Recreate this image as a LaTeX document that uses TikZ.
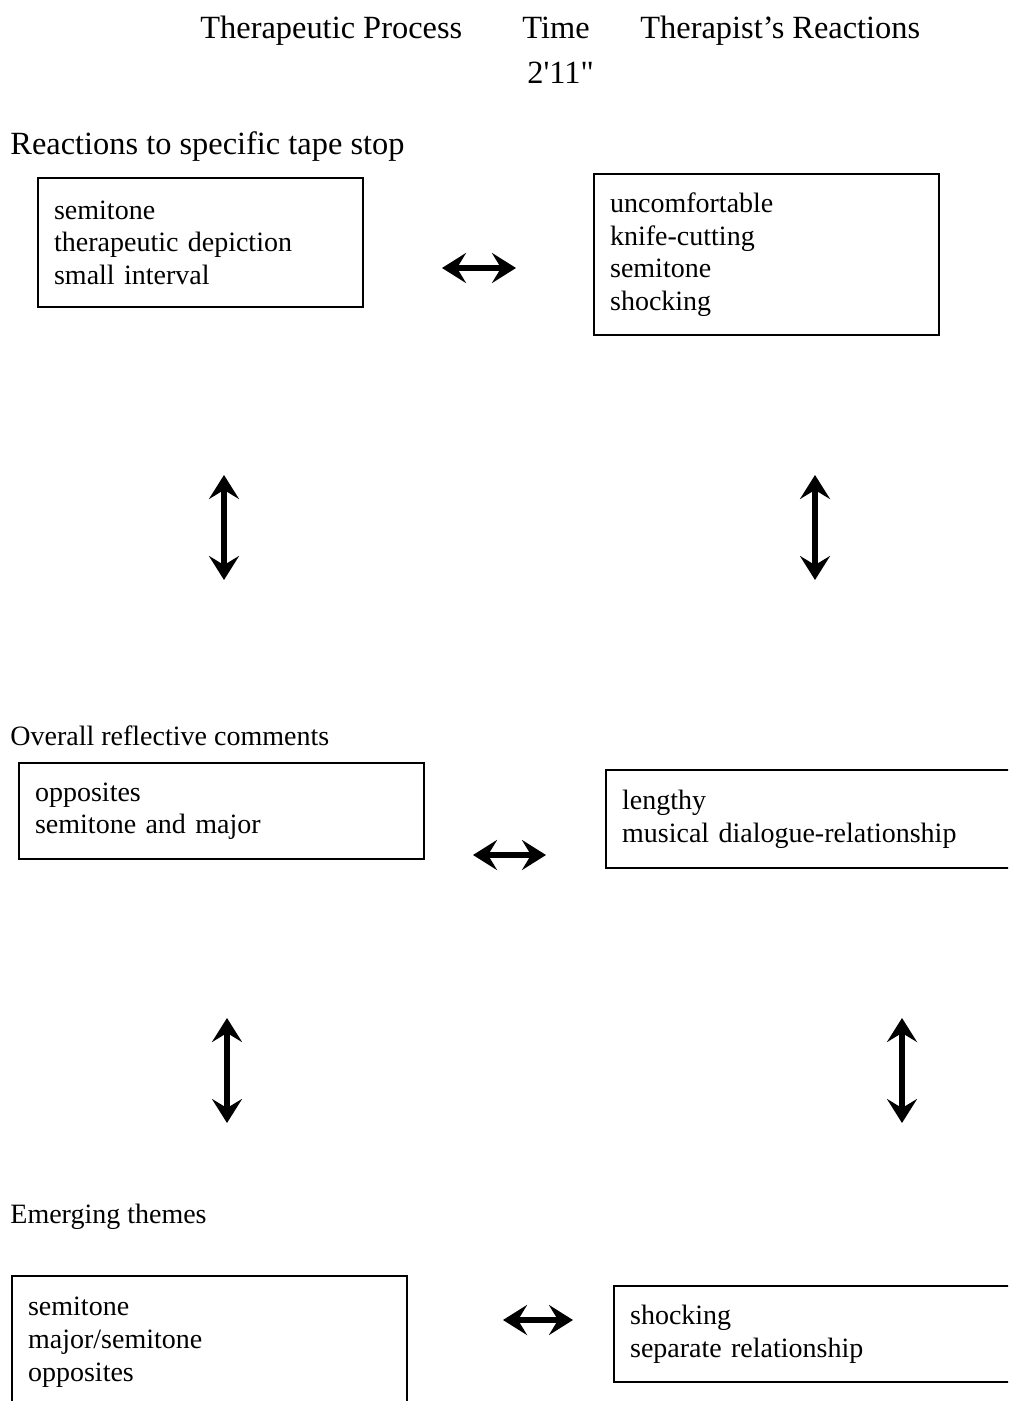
\documentclass[tikz,border=0pt]{standalone}
\usepackage{fontspec}
\setmainfont{Liberation Serif}
\usepackage{tikz}
\usetikzlibrary{shapes,arrows,arrows.meta,positioning}

\begin{document}
\begin{tikzpicture}[
    x=0.5pt, y=-0.5pt,
    heading/.style={anchor=base west, inner sep=0pt, font=\fontsize{16.2}{19}\selectfont},
    section/.style={anchor=base west, inner sep=0pt, font=\fontsize{14}{17}\selectfont},
    theme/.style={draw, line width=1.1pt, anchor=north west, inner xsep=8pt, inner ysep=0pt, align=left, font=\fontsize{14}{16.3}\selectfont},
    link/.style={{Stealth[length=12pt,width=15pt,inset=4.5pt]}-{Stealth[length=12pt,width=15pt,inset=4.5pt]}, line width=2.6pt}
]
    \clip (0,0) rectangle (1008,1401);

    % Column headings
    \node[heading] (proc) at (200,39) {Therapeutic Process};
    \node[heading] (time) at (522,39) {Time};
    \node[heading] (stamp) at (527,84) {2\textquotesingle11\textquotedbl};
    \node[heading] (react) at (640,39) {Therapist's Reactions};

    % Row 1: reactions to specific tape stop
    \node[heading] (sec1) at (10,155) {Reactions to specific tape stop};
    \node[theme, text width=146.5pt, minimum height=64.5pt] (proc1) at (37,177) {semitone\\therapeutic depiction\\small interval};
    \node[theme, text width=156.5pt, minimum height=80.5pt] (react1) at (593,173) {uncomfortable\\knife-cutting\\semitone\\shocking};
    \coordinate (h1a) at (442,268);
    \coordinate (h1b) at (516,268);
    \draw[link] (h1a) -- (h1b);

    % Row 1 to row 2
    \coordinate (v1a) at (224,475);
    \coordinate (v1b) at (224,580);
    \coordinate (v2a) at (815,475);
    \coordinate (v2b) at (815,580);
    \draw[link] (v1a) -- (v1b);
    \draw[link] (v2a) -- (v2b);

    % Row 2: overall reflective comments
    \node[section] (sec2) at (10,745) {Overall reflective comments};
    \node[theme, text width=186.5pt, minimum height=48pt] (proc2) at (18,762) {opposites\\semitone and major};
    \node[theme, text width=194pt, minimum height=49pt] (react2) at (605,769) {lengthy\\musical dialogue-relationship};
    \coordinate (h2a) at (473,855);
    \coordinate (h2b) at (546,855);
    \draw[link] (h2a) -- (h2b);

    % Row 2 to row 3
    \coordinate (v3a) at (227,1018);
    \coordinate (v3b) at (227,1123);
    \coordinate (v4a) at (902,1018);
    \coordinate (v4b) at (902,1123);
    \draw[link] (v3a) -- (v3b);
    \draw[link] (v4a) -- (v4b);

    % Row 3: emerging themes
    \node[section] (sec3) at (10,1223) {Emerging themes};
    \node[theme, text width=181.5pt, minimum height=66pt] (proc3) at (11,1275) {semitone\\major/semitone\\opposites};
    \node[theme, text width=194pt, minimum height=48pt] (react3) at (613,1285) {shocking\\separate relationship};
    \coordinate (h3a) at (503,1320);
    \coordinate (h3b) at (573,1320);
    \draw[link] (h3a) -- (h3b);

\end{tikzpicture}
\end{document}
